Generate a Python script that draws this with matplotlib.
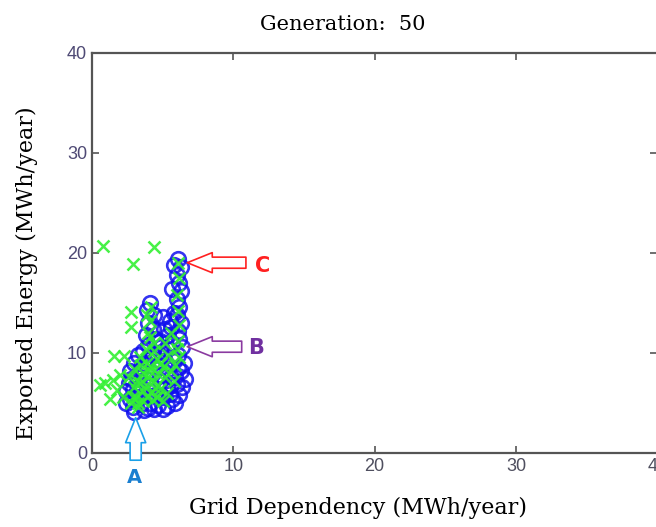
import numpy as np
import matplotlib.pyplot as plt

# Pareto front (blue circles)
front_x = [6.1, 6.3, 6.0, 6.2, 6.3, 6.0, 6.2, 6.0, 6.3, 6.1, 6.2, 6.4, 6.1, 6.5, 6.3, 6.6, 6.4, 6.2, 5.9,
           5.8, 5.7, 5.8, 5.6, 5.7,
           4.1, 3.9, 4.4, 4.0, 4.3, 3.8, 4.5, 4.0, 3.6,
           5.0, 5.1, 4.8, 5.3, 5.0, 4.7, 5.4, 5.6, 5.8,
           3.3, 3.0, 2.7, 3.5, 4.0, 4.3, 3.8, 3.2, 2.6, 2.4, 2.9, 3.5, 4.2, 4.8, 5.2, 5.6,
           5.0, 4.5, 3.9, 3.3, 2.7, 2.4, 2.9, 3.5, 4.1, 4.7, 5.3, 3.0, 4.4, 5.7,
           3.4, 3.7, 4.6, 4.9, 5.5, 6.0, 6.1, 5.9, 2.8, 3.1, 4.0, 3.7, 5.0, 4.3, 4.9, 5.4, 5.5]
front_y = [19.4, 18.6, 17.8, 17.0, 16.2, 15.4, 14.6, 13.8, 13.0, 12.2, 11.4, 10.6, 9.8, 9.0, 8.2, 7.4, 6.6, 5.8, 5.0,
           18.8, 16.4, 14.0, 12.6, 11.0,
           15.0, 14.3, 13.8, 13.0, 12.4, 11.8, 11.4, 10.8, 10.2,
           13.6, 12.4, 11.2, 10.4, 9.6, 8.8, 8.4, 7.6, 9.2,
           9.8, 9.0, 8.2, 8.6, 9.4, 8.0, 7.4, 7.6, 7.0, 6.2, 6.4, 6.6, 6.8, 7.2, 6.4, 6.8,
           5.6, 5.8, 5.8, 5.6, 5.4, 5.0, 4.6, 4.9, 5.0, 4.8, 4.7, 4.1, 4.4, 5.4,
           8.2, 9.0, 10.0, 7.8, 5.9, 6.9, 8.5, 7.6, 7.4, 6.0, 4.5, 4.3, 4.4, 9.8, 10.6, 11.8, 13.2]

# population (green crosses)
pop_x = [0.8, 4.4, 2.9, 2.8, 2.8, 1.6, 2.3, 0.9, 0.6, 1.5, 1.3, 1.8, 2.0, 2.2,
         6.1, 6.2, 6.0, 6.1, 6.2, 6.1, 4.2, 4.1, 4.0, 4.4, 3.8, 3.4, 3.9, 4.2, 4.6,
         3.6, 4.0, 4.4, 3.2, 3.0, 3.6, 4.2, 4.8, 5.2, 5.0, 5.4, 3.1, 3.6, 2.8, 4.3,
         5.0, 3.3, 5.6, 2.6, 3.0, 5.6, 5.2, 6.2,
         3.5, 4.1, 4.7, 3.8, 4.5, 3.4, 3.9, 4.6, 5.3, 5.8, 4.9, 4.4, 3.3, 2.9, 5.9, 6.0, 4.1, 3.9]
pop_y = [20.7, 20.6, 18.9, 14.1, 12.6, 9.7, 9.7, 7.0, 6.8, 7.3, 5.4, 6.3, 7.8, 5.6,
         19.0, 17.5, 15.8, 14.2, 12.8, 11.2, 14.6, 13.2, 12.0, 11.0, 10.4, 9.6, 9.0, 8.6, 9.4,
         8.0, 7.6, 7.2, 7.2, 6.6, 6.2, 6.0, 6.4, 7.6, 8.6, 9.8, 5.6, 5.2, 5.0, 5.3,
         5.2, 4.6, 8.2, 7.6, 8.4, 12.0, 11.0, 9.6,
         8.8, 8.2, 7.9, 6.8, 6.5, 7.0, 5.6, 5.6, 6.0, 7.2, 9.0, 10.2, 5.0, 5.6, 8.8, 10.4, 11.6, 13.8]

xticks = [0, 10, 20, 30, 40]
yticks = [0, 10, 20, 30, 40]

fig = plt.figure(figsize=(6.56, 5.27), dpi=100)
ax = fig.add_axes([0.140, 0.141, 0.862, 0.759])

ax.plot(front_x, front_y, 'o', ms=10.5, mfc='none', mec='#1010ee', mew=1.9, alpha=0.85)
ax.plot(pop_x, pop_y, 'x', ms=8, color='#33f033', mew=1.8, alpha=0.9)

ax.set_xlim(0, 40)
ax.set_ylim(0, 40)
ax.set_xticks(xticks)
ax.set_yticks(yticks)
ax.tick_params(direction='in', top=True, right=True, length=5, width=1.2, color='#555555')
for lab in ax.get_xticklabels():
    lab.set_fontfamily('Liberation Sans')
    lab.set_fontsize(13)
    lab.set_color('#4f4f5f')
for lab in ax.get_yticklabels():
    lab.set_fontfamily('Liberation Sans')
    lab.set_fontsize(13)
    lab.set_color('#4f4a75')
for sp in ax.spines.values():
    sp.set_color('#555555')
    sp.set_linewidth(1.6)

serif = 'DejaVu Serif'
ax.text(0.444, 1.07, 'Generation:  50', transform=ax.transAxes, family=serif,
        fontsize=15, ha='center', va='center')
ax.set_xlabel('Grid Dependency (MWh/year)', family=serif, fontsize=16)
ax.set_ylabel('Exported Energy (MWh/year)', family=serif, fontsize=16)
ax.xaxis.set_label_coords(0.47, -0.1375)
ax.yaxis.set_label_coords(-0.115, 0.45)
ax.xaxis.label.set_va('center')
ax.yaxis.label.set_va('center')

# hollow block arrows with letters
def block_arrow(tip, tail, color):
    ax.annotate('', xy=tip, xytext=tail, annotation_clip=False,
                arrowprops=dict(arrowstyle='simple,head_length=1.8,head_width=1.45,tail_width=0.8',
                                mutation_scale=10, fc='white', ec=color, lw=1.2,
                                shrinkA=0, shrinkB=0))

block_arrow((6.75, 19.0), (10.9, 19.0), '#ff2020')
block_arrow((6.75, 10.6), (10.6, 10.6), '#8a3aa0')
block_arrow((3.1, 3.5), (3.1, -0.75), '#1aa0e8')

ax.text(12.1, 18.7, 'C', color='#ff2020', fontsize=15, fontweight='bold',
        family='DejaVu Sans', ha='center', va='center')
ax.text(11.6, 10.5, 'B', color='#7030a0', fontsize=15, fontweight='bold',
        family='DejaVu Sans', ha='center', va='center')
ax.text(3.05, -2.5, 'A', color='#1a7fd0', fontsize=14, fontweight='bold',
        family='DejaVu Sans', ha='center', va='center', clip_on=False)

fig.savefig('out.png', dpi=100)
